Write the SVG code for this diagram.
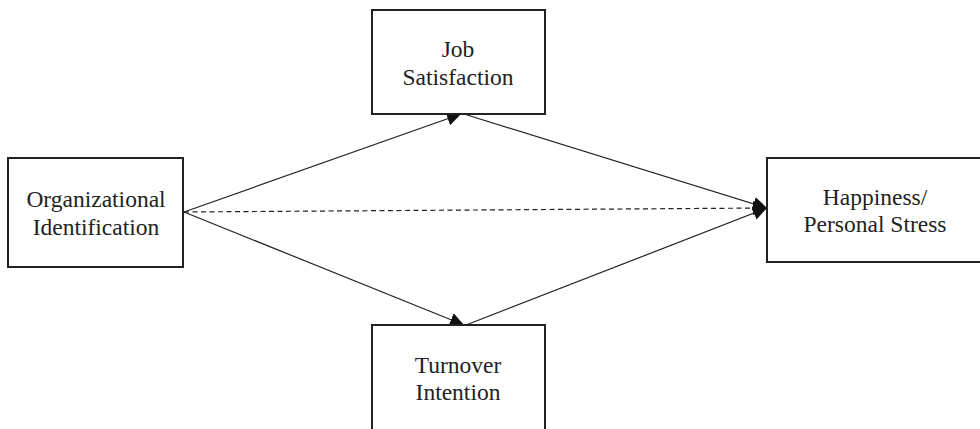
<svg xmlns="http://www.w3.org/2000/svg" width="980" height="429" viewBox="0 0 980 429">
<style>
.box{fill:#fff;stroke:#222;stroke-width:2}
.lbl{font-family:"Liberation Serif","Times New Roman",serif;font-size:23.5px;fill:#222;text-anchor:middle}
.ln{stroke:#222;stroke-width:1.2;fill:none}
.dash{stroke-dasharray:5,3.5}
</style>
<defs>
<marker id="ah" viewBox="0 0 10 10" refX="10" refY="5" markerWidth="14" markerHeight="14" markerUnits="userSpaceOnUse" orient="auto">
<path d="M0,0 L10,5 L0,10 z" fill="#111"/>
</marker>
</defs>
<g id="connectors">
<line class="ln" x1="184" y1="212" x2="461" y2="114" marker-end="url(#ah)"/>
<line class="ln" x1="464" y1="114" x2="767" y2="208" marker-end="url(#ah)"/>
<line class="ln dash" x1="184" y1="212" x2="767" y2="208" marker-end="url(#ah)"/>
<line class="ln" x1="184" y1="212" x2="464" y2="325" marker-end="url(#ah)"/>
<line class="ln" x1="466" y1="325" x2="767" y2="208" marker-end="url(#ah)"/>
</g>
<g id="org">
<rect class="box" x="8" y="158" width="175" height="109"/>
<text class="lbl" x="96" y="207">Organizational</text>
<text class="lbl" x="96" y="235">Identification</text>
</g>
<g id="job">
<rect class="box" x="372" y="10" width="173" height="104"/>
<text class="lbl" x="458" y="57">Job</text>
<text class="lbl" x="458" y="85">Satisfaction</text>
</g>
<g id="turnover">
<rect class="box" x="372" y="325" width="173" height="110"/>
<text class="lbl" x="458" y="373">Turnover</text>
<text class="lbl" x="458" y="400">Intention</text>
</g>
<g id="happiness">
<rect class="box" x="767" y="158" width="220" height="104"/>
<text class="lbl" x="875" y="205">Happiness/</text>
<text class="lbl" x="875" y="232">Personal Stress</text>
</g>
</svg>
